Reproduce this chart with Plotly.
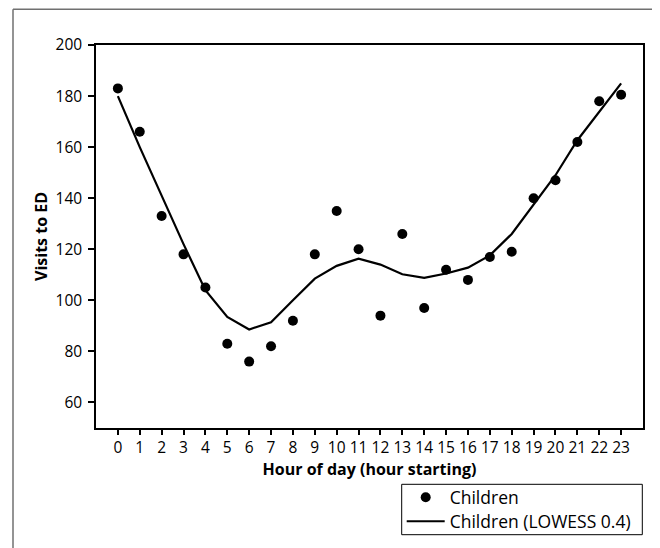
import plotly.graph_objects as go

# ---- data ----
hours = list(range(24))
children = [183, 166, 133, 118, 105, 83, 76, 82, 92, 118, 135, 120,
            94, 126, 97, 112, 108, 117, 119, 140, 147, 162, 178, 180.5]
lowess = [180, 160, 141, 122, 104, 93.5, 88.6, 91.4, 100, 108.5, 113.5, 116.3,
          114, 110.2, 108.8, 110.5, 112.8, 117.6, 126, 137.3, 149, 162.7, 174, 185]
xtick_labels = [str(h) for h in hours]
ytick_vals = [60, 80, 100, 120, 140, 160, 180, 200]

W, H = 660, 548
ML, MR, MT, MB = 88, 25, 37, 128
PW, PH = W - ML - MR, H - MT - MB

FONT = "Open Sans"


def px_x(x):
    return (x - ML) / PW


def px_y(y):
    return (H - MB - y) / PH


fig = go.Figure()
fig.add_trace(go.Scatter(
    x=hours, y=children, mode="markers", name="Children",
    marker=dict(color="black", size=10, line=dict(width=0)),
    legend="legend",
))
fig.add_trace(go.Scatter(
    x=hours, y=lowess, mode="lines", name="Children (LOWESS 0.4)",
    line=dict(color="black", width=2.2),
    legend="legend2",
))

# outer frame (left and top edges visible)
fig.add_shape(type="line", xref="paper", yref="paper", x0=px_x(5), x1=px_x(5),
              y0=px_y(1.3), y1=-1, line=dict(color="#707070", width=1.5))
fig.add_shape(type="line", xref="paper", yref="paper", x0=px_x(5), x1=2,
              y0=px_y(1.3), y1=px_y(1.3), line=dict(color="#707070", width=1.5))

# legend frame
LEG_L, LEG_R, LEG_T, LEG_B = 393.7, 634.3, 476.3, 526.7
fig.add_shape(type="rect", xref="paper", yref="paper",
              x0=px_x(LEG_L), x1=px_x(LEG_R), y0=px_y(LEG_B), y1=px_y(LEG_T),
              line=dict(color="black", width=1), fillcolor="rgba(0,0,0,0)")

leg_common = dict(
    x=px_x(LEG_L), xanchor="left", yanchor="middle",
    borderwidth=0, bgcolor="rgba(0,0,0,0)",
    font=dict(family=FONT, size=17.5, color="black"),
    itemwidth=38,
)

fig.update_layout(
    width=W, height=H,
    margin=dict(l=ML, r=MR, t=MT, b=MB, pad=0),
    paper_bgcolor="white", plot_bgcolor="white",
    font=dict(family=FONT, color="black", size=15.5),
    showlegend=True,
    legend=dict(y=px_y(489.3), **leg_common),
    legend2=dict(y=px_y(513.4), **leg_common),
    xaxis=dict(
        range=[-1, 24], tickmode="array", tickvals=hours, ticktext=xtick_labels,
        ticks="outside", ticklen=5, tickwidth=1.5, tickcolor="black",
        showline=True, linecolor="black", linewidth=1.5, mirror=True,
        showgrid=False, zeroline=False,
        tickfont=dict(size=15.5),
        title=dict(text="<b>Hour of day (hour starting)</b>", font=dict(size=16), standoff=6),
    ),
    yaxis=dict(
        range=[50, 200], tickmode="array", tickvals=ytick_vals,
        ticks="outside", ticklen=6, tickwidth=1.5, tickcolor="black",
        showline=True, linecolor="black", linewidth=1.5, mirror=True,
        showgrid=False, zeroline=False,
        tickfont=dict(size=15.5), ticklabelstandoff=3,
        title=dict(text="<b>Visits to ED</b>", font=dict(size=16), standoff=4),
    ),
)

fig.write_html("out.html")
